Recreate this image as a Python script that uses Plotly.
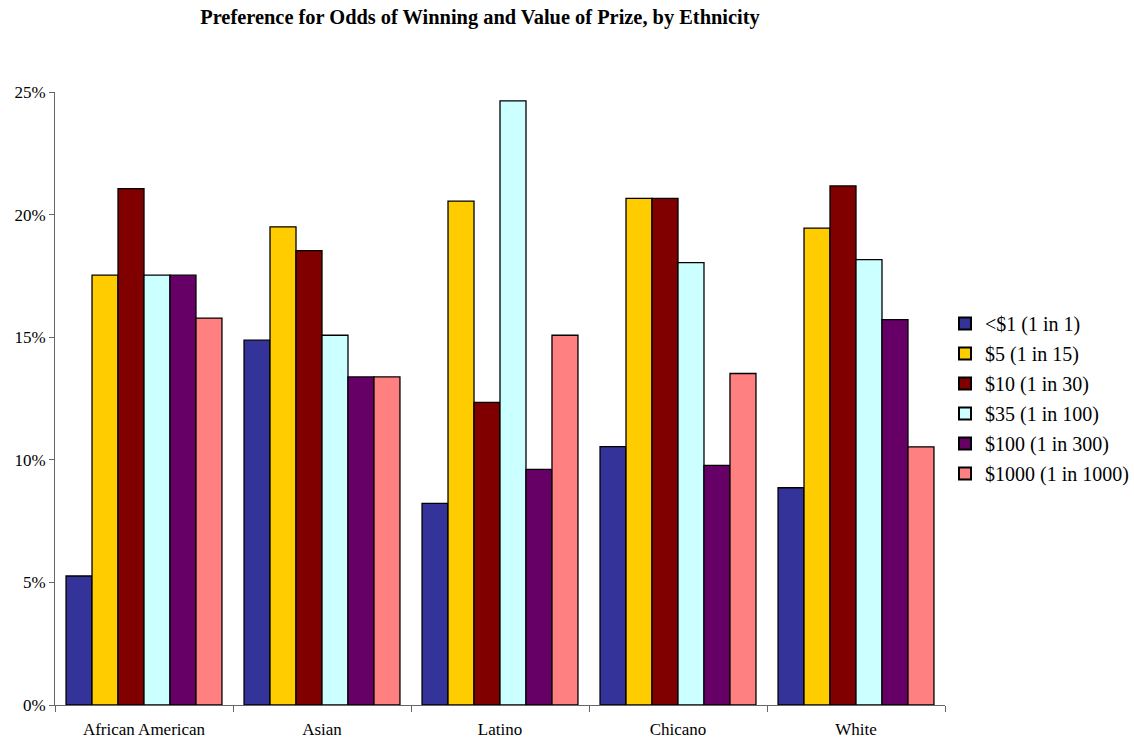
import plotly.graph_objects as go

categories = ["African American", "Asian", "Latino", "Chicano", "White"]
series_names = ["<$1 (1 in 1)", "$5 (1 in 15)", "$10 (1 in 30)",
                "$35 (1 in 100)", "$100 (1 in 300)", "$1000 (1 in 1000)"]
s_lt1 = [5.26, 14.88, 8.22, 10.54, 8.86]
s_5 = [17.53, 19.50, 20.55, 20.66, 19.45]
s_10 = [21.06, 18.53, 12.34, 20.66, 21.17]
s_35 = [17.53, 15.08, 24.64, 18.04, 18.16]
s_100 = [17.53, 13.38, 9.61, 9.77, 15.72]
s_1000 = [15.78, 13.38, 15.08, 13.52, 10.53]
series_values = [s_lt1, s_5, s_10, s_35, s_100, s_1000]
colors = ["#333399", "#FFCC00", "#800000", "#CCFFFF", "#660066", "#FF8080"]
y_ticks = [0, 5, 10, 15, 20, 25]
y_tick_labels = ["0%", "5%", "10%", "15%", "20%", "25%"]

font_family = "Liberation Serif"

fig = go.Figure()
for i, (name, vals, col) in enumerate(zip(series_names, series_values, colors)):
    fig.add_trace(go.Bar(
        x=categories, y=vals, name=name, legendgroup=f"g{i}",
        marker=dict(color=col, line=dict(color="black", width=1.3)),
    ))

fig.update_layout(
    width=1134, height=743,
    barmode="group", bargap=0.124, bargroupgap=0,
    paper_bgcolor="white", plot_bgcolor="white",
    margin=dict(l=55, r=189, t=92, b=38, autoexpand=False),
    font=dict(family=font_family, size=17, color="black"),
    title=dict(
        text="<b>Preference for Odds of Winning and Value of Prize, by Ethnicity</b>",
        font=dict(family=font_family, size=20.4, color="black"),
        x=0.4775, xref="paper", xanchor="center",
        y=1 - 17 / 743, yref="container", yanchor="middle",
    ),
    legend=dict(
        x=945 / 1134, xref="container", xanchor="left",
        y=0.5, yanchor="middle",
        font=dict(family=font_family, size=20, color="black"),
        bgcolor="rgba(0,0,0,0)", itemsizing="constant",
        tracegroupgap=1,
    ),
    showlegend=True,
)
fig.update_xaxes(
    type="category", showline=True, linecolor="#666666", linewidth=1,
    ticks="outside", tickson="boundaries", ticklen=6, tickcolor="#666666",
    showgrid=False, zeroline=False, ticklabelstandoff=9, automargin=False,
    tickfont=dict(family=font_family, size=17, color="black"),
)
fig.update_yaxes(
    range=[0, 25], tickvals=y_ticks, ticktext=y_tick_labels,
    showline=True, linecolor="#666666", linewidth=1,
    ticks="outside", ticklen=5, tickcolor="#666666",
    showgrid=False, zeroline=False, automargin=False,
    tickfont=dict(family=font_family, size=17, color="black"),
)

fig.write_html("out.html")
